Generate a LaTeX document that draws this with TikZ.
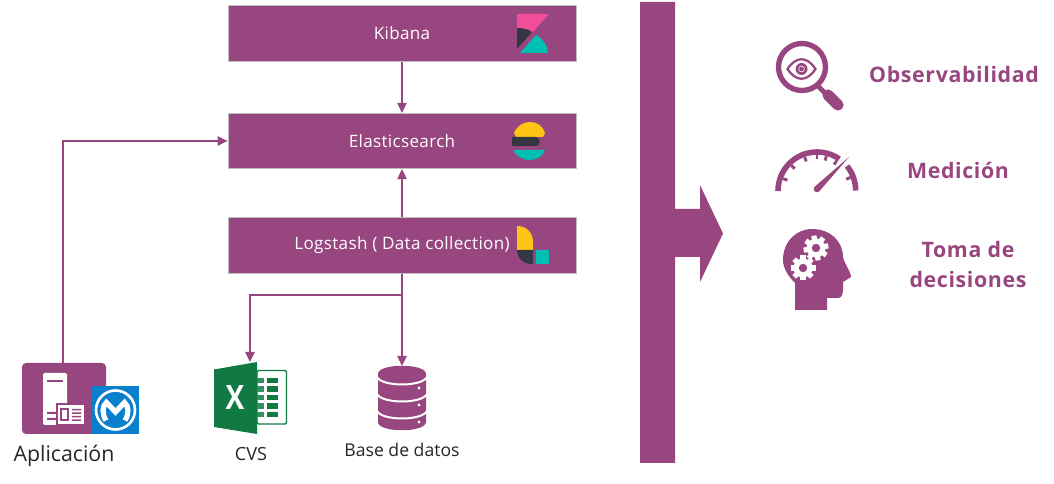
\documentclass[tikz,border=0pt]{standalone}
\usepackage{fontspec}
\setmainfont{Open Sans}
\usetikzlibrary{arrows.meta}
\definecolor{plum}{HTML}{98467F}
\definecolor{kpink}{HTML}{F04E98}
\definecolor{kdark}{HTML}{343741}
\definecolor{kteal}{HTML}{00BFB3}
\definecolor{kyellow}{HTML}{FEC514}
\definecolor{mblue}{HTML}{0A7FCE}
\definecolor{xgreen}{HTML}{107A42}
\tikzset{
  x=0.75pt,y=-0.75pt,
  stackbox/.style={draw=black!25,line width=0.6pt,fill=plum,minimum width=261pt,minimum height=41.5pt,inner sep=0pt,text=white,font=\fontsize{12.8pt}{14pt}\selectfont\addfontfeatures{LetterSpace=2}},
  link/.style={draw=plum,line width=1.1pt,-{Triangle[length=7.5pt,width=7pt]}},
  caption/.style={inner sep=0pt,text=black!85},
  outcome/.style={inner sep=0pt,text=plum,align=center,font=\bfseries\fontsize{16pt}{21.8pt}\selectfont\addfontfeatures{LetterSpace=3}},
}
\newcommand{\gearicon}[3]{%
  \foreach \a in {0,45,...,315}{\fill[white,rotate around={\a+#3:(#1,#2)}] (#1-2.6,#2-12.5) rectangle (#1+2.6,#2);}
  \fill[white] (#1,#2) circle[radius=9.5];
  \fill[plum] (#1,#2) circle[radius=4.2];
}
\begin{document}
\begin{tikzpicture}
\useasboundingbox (0,0) rectangle (1054,484);
% stack
\node[stackbox] (kibana) at (402,33.5) {Kibana};
\node[stackbox] (elastic) at (402,141) {Elasticsearch};
\node[stackbox] (logstash) at (402,245.5) {Logstash ( Data collection)};
% kibana logo
\fill[kpink] (517,14)--(549,14)--(533,32) .. controls (528,29) and (522,28) .. (517,28)--cycle;
\fill[kdark] (517,28) .. controls (522,28) and (528,29) .. (532,32)--(517,49)--cycle;
\fill[kteal] (520,53)--(536,35) .. controls (543,39) and (548,46) .. (548,53)--cycle;
% elastic logo
\fill[kyellow] (514,133) .. controls (517,126) and (523,122) .. (530,122) .. controls (537,122) and (543,126) .. (545,133)--(543,137)--(516,137)--cycle;
\fill[kdark] (512,137)--(535,137) .. controls (541.5,137) and (541.5,146) .. (535,146)--(512,146)--cycle;
\fill[kteal] (513,150)--(545,150) .. controls (543,156) and (537,160) .. (530,160) .. controls (522,160) and (516,156) .. (513,150)--cycle;
% logstash logo
\fill[kyellow] (517,226) .. controls (527,226) and (533,233) .. (533,242)--(533,250)--(517,250)--cycle;
\fill[kdark] (517,250)--(533,250)--(533,264) .. controls (524,264) and (517,259) .. (517,250)--cycle;
\fill[kteal] (536,250) rectangle (549,264);
% application
\node[fill=plum,rounded corners=3pt,minimum width=63pt,minimum height=53.25pt,inner sep=0pt] (app) at (64,398.5) {};
\fill[white,rounded corners=1pt] (43,373) rectangle (67,425);
\fill[plum] (47,380.5) rectangle (63,382.5);
\fill[plum] (47,412) rectangle (56,414) (47,418) rectangle (56,420);
\fill[plum] (56,403) rectangle (86,426);
\fill[white] (58,405) rectangle (84,424);
\fill[plum] (60,408) rectangle (69,421);
\fill[white] (62,410) rectangle (67,419);
\fill[plum] (72,409) rectangle (81,410.5) (72,412.5) rectangle (81,414) (72,416) rectangle (81,417.5) (72,419.5) rectangle (81,421);
% mule logo
\fill[mblue] (92,386) rectangle (139,434);
\draw[white,line width=2pt] (115.5,410) circle[radius=19.5];
\draw[white,line width=3.9pt] (106,420.5) .. controls (102,414) and (102,406) .. (106.5,402.5) -- (115.5,412) -- (124.5,402.5) .. controls (129,406) and (129,414) .. (125,420.5);
\node[caption,font=\fontsize{16pt}{18pt}\selectfont] (apptext) at (64,456) {Aplicación};
% excel
\coordinate (excel) at (250,362);
\fill[white] (257,370) rectangle (287,424);
\draw[xgreen,line width=1.1pt,rounded corners=1pt] (257,370.5) rectangle (286.5,424);
\fill[xgreen] (214,369.5)--(257,362)--(257,434)--(214,427)--cycle;
\foreach \r in {378,386.5,395,403.5,412}{\fill[xgreen!85] (257,\r) rectangle (264,\r+5.5); \fill[xgreen] (267,\r) rectangle (278,\r+5.5);}
\node[text=white,inner sep=0pt,font=\bfseries\fontsize{21pt}{22pt}\selectfont,yscale=1.2] (xmark) at (235,398) {X};
\node[caption,font=\fontsize{13.6pt}{15pt}\selectfont] (cvstext) at (251,454) {CVS};
% database
\coordinate (dbtop) at (402,366);
\fill[plum] (378,374) .. controls (378,363) and (426,363) .. (426,374) -- (426,422) .. controls (426,433) and (378,433) .. (378,422) -- cycle;
\draw[white,line width=1.5pt] (377,377) .. controls (382,387) and (422,387) .. (427,377);
\draw[white,line width=1.5pt] (377,394) .. controls (382,404) and (422,404) .. (427,394);
\draw[white,line width=1.5pt] (377,411) .. controls (382,421) and (422,421) .. (427,411);
\foreach \d in {388,405,422}{\fill[white] (419,\d) circle[radius=1.7];}
\node[caption,font=\fontsize{13.2pt}{15pt}\selectfont] (dbtext) at (402,450) {Base de datos};
% connectors
\coordinate (branch) at (402,295);
\draw[link] (kibana) -- (elastic);
\draw[link] (logstash) -- (elastic);
\draw[link] (logstash.south) -- (dbtop);
\draw[link] (branch) -| (excel);
\draw[link] (app.north) ++(-1,0) |- (elastic.west);
% big arrow
\fill[plum] (640,2)--(675,2)--(675,209)--(700,209)--(700,185)--(723,233.5)--(700,282)--(700,257)--(675,257)--(675,463)--(640,463)--cycle;
% magnifier
\draw[plum,line width=4pt] (802,67) circle[radius=23.5];
\draw[plum,line width=3.6pt] (818,86)--(827,95);
\draw[plum,line width=8.4pt,line cap=round] (828,95)--(838,105);
\draw[plum,line width=1.7pt] (787.5,69) .. controls (796,56) and (807,56) .. (815.5,69) .. controls (807,82) and (796,82) .. (787.5,69)--cycle;
\fill[plum] (801.5,69) circle[radius=6];
\fill[white] (801.5,69) circle[radius=3.2];
\fill[plum] (801.5,69) circle[radius=2.4];
% gauge
\draw[plum,line width=4.2pt] (778,191) arc[start angle=-180,end angle=-55,radius=39];
\draw[plum,line width=4.2pt] (847,166) arc[start angle=-39,end angle=0,radius=39];
\foreach \a in {22,57,75,90,110,135,160}{\draw[plum,line width=2.2pt] ({817+36*cos(\a)},{191-36*sin(\a)})--({817+31.5*cos(\a)},{191-31.5*sin(\a)});}
\fill[plum] (849,157)--(819.3,191.3)--(814.7,186.7)--cycle;
\fill[plum] (817,189) circle[radius=3.3];
% head
\fill[plum] (795,310)--(795,283) .. controls (788,276) and (783,268) .. (783,260) .. controls (783,242) and (796,229) .. (812,229) .. controls (830,229) and (843,241) .. (843,257) .. controls (844,263) and (851,272) .. (851,277) -- (843,282)--(843,290) .. controls (843,295) and (841,298) .. (838,298) -- (827,298)--(827,310)--cycle;
\gearicon{816}{248}{10}
\gearicon{803}{268}{0}
% outcome labels
\node[outcome] (obs) at (954,75) {Observabilidad};
\node[outcome] (med) at (958,170) {Medición};
\node[outcome] (toma) at (968,264.5) {Toma de\\decisiones};
\end{tikzpicture}
\end{document}
